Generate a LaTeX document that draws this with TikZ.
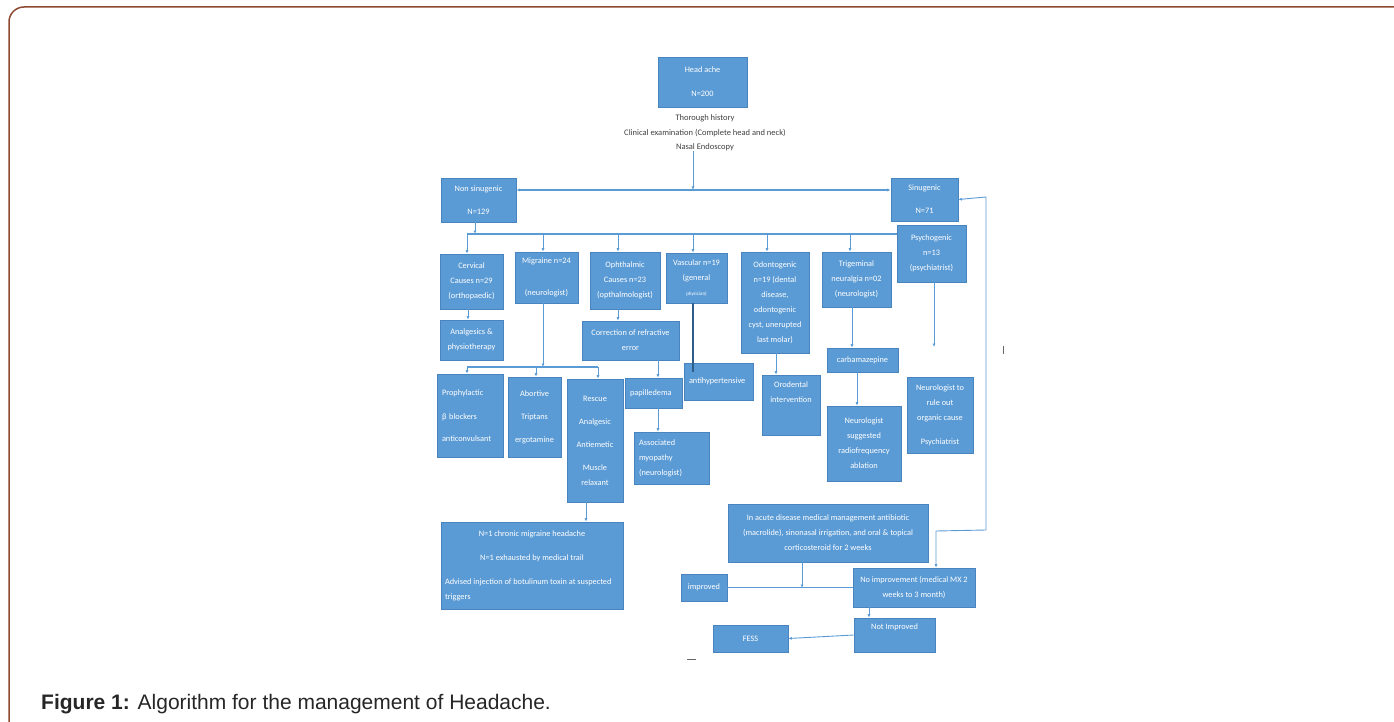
\documentclass[tikz,border=0pt]{standalone}
\usepackage{fontspec}
\setmainfont{Liberation Sans}
\newfontfamily\boxfont{Carlito}
\usetikzlibrary{arrows.meta}
\definecolor{boxblue}{HTML}{5B9BD5}
\definecolor{boxedge}{HTML}{4A84BE}
\definecolor{linkblue}{HTML}{5B9BD5}
\definecolor{darkline}{HTML}{2F5D8C}
\definecolor{framebrown}{HTML}{8E4A32}
\definecolor{notegray}{HTML}{404040}
\begin{document}
\begin{tikzpicture}[x=1pt,y=-1pt,
  box/.style={draw=boxedge, line width=0.6pt, fill=boxblue, text=white,
    font=\boxfont\fontsize{8.3}{15}\selectfont, inner sep=0pt, align=center},
  lbox/.style={box, align=left, inner xsep=5pt},
  link/.style={draw=linkblue, line width=0.9pt},
  arr/.style={link, -{Latex[length=3.5pt,width=3pt]}},
  biarr/.style={link, {Latex[length=3.5pt,width=3pt]}-{Latex[length=3.5pt,width=3pt]}},
  tick/.style={draw=black!60, line width=1pt}]
\useasboundingbox (0,0) rectangle (1394,722);
\clip (0,0) rectangle (1394,722);
% frame
\draw[framebrown, line width=1.5pt, rounded corners=15pt] (9,760) -- (9,7) -- (1420,7);

% top
\node[box, minimum width=89pt, minimum height=50pt] (head) at (702.5,82) {Head ache\\[9pt]N=200};
\node[align=center, text=notegray, inner sep=0pt, font=\boxfont\fontsize{8.5}{14.5}\selectfont] (exam) at (705,133)
  {Thorough history\\Clinical examination (Complete head and neck)\\Nasal Endoscopy};
\node[box, minimum width=75pt, minimum height=44pt] (nonsin) at (478.5,200) {Non sinugenic\\[8pt]N=129};
\node[box, minimum width=67pt, minimum height=43pt] (sin) at (924.5,199.5) {Sinugenic\\[8pt]N=71};

% level 1
\node[box, minimum width=63pt, minimum height=55pt] (cerv) at (471.5,281.5) {Cervical\\Causes n=29\\(orthopaedic)};
\node[box, minimum width=63pt, minimum height=51pt] (migr) at (546.5,277.5) {Migraine n=24\\[17pt](neurologist)};
\node[box, minimum width=70pt, minimum height=57pt] (ophth) at (625,280.5) {Ophthalmic\\Causes n=23\\(opthalmologist)};
\node[box, minimum width=61pt, minimum height=50pt] (vasc) at (696.5,278) {Vascular n=19\\(general\\{\fontsize{5}{6}\selectfont physician)}};
\node[box, minimum width=68pt, minimum height=101pt] (odont) at (775,302.5) {Odontogenic\\n=19 (dental\\disease,\\odontogenic\\cyst, unerupted\\last molar)};
\node[box, minimum width=69pt, minimum height=55pt] (trig) at (856.5,279.5) {Trigeminal\\neuralgia n=02\\(neurologist)};
\node[box, minimum width=69pt, minimum height=57pt] (psych) at (931.5,253.5) {Psychogenic\\n=13\\(psychiatrist)};

% level 2
\node[box, minimum width=63pt, minimum height=40pt] (analg) at (471.5,340) {Analgesics \&\\physiotherapy};
\node[box, minimum width=97pt, minimum height=39pt] (corr) at (630.5,340.5) {Correction of refractive\\error};
\node[lbox, text width=56pt, minimum height=83pt] (proph) at (470,415.5) {Prophylactic\\[9pt]β blockers\\[7pt]anticonvulsant};
\node[box, minimum width=53pt, minimum height=80pt] (abort) at (534.5,417) {Abortive\\[8pt]Triptans\\[8pt]ergotamine};
\node[box, minimum width=56pt, minimum height=123pt] (rescue) at (595,440.5) {Rescue\\[8pt]Analgesic\\[8pt]Antiemetic\\[8pt]Muscle\\relaxant};
\node[lbox, text width=47pt, minimum height=30pt] (papil) at (653.5,393) {papilledema};
\node[lbox, text width=65pt, minimum height=52pt] (assoc) at (671.5,458) {Associated\\myopathy\\(neurologist)};
\node[lbox, text width=59pt, minimum height=37pt] (antihyp) at (718.5,381.5) {antihypertensive\\[3pt]};
\node[box, minimum width=58pt, minimum height=60pt] (orod) at (791,405) {Orodental\\intervention\\[10pt]};
\node[box, minimum width=71pt, minimum height=24pt] (carb) at (862.5,360) {carbamazepine};
\node[box, minimum width=74pt, minimum height=75pt] (radio) at (864,443.5) {Neurologist\\suggested\\radiofrequency\\ablation};
\node[box, minimum width=66pt, minimum height=76pt] (neuro) at (940,415) {Neurologist to\\rule out\\organic cause\\[9pt]Psychiatrist};
\node[box, minimum width=182pt, minimum height=87pt] (botu) at (532,565.5)
  {N=1 chronic migraine headache\\[9pt]N=1 exhausted by medical trail\\[9pt]\parbox[t]{174pt}{\raggedright Advised injection of botulinum toxin at suspected\\triggers}};

% sinugenic branch
\node[box, minimum width=200pt, minimum height=58pt] (acute) at (828,533)
  {In acute disease medical management antibiotic\\(macrolide), sinonasal irrigation, and oral \& topical\\corticosteroid for 2 weeks};
\node[box, minimum width=46pt, minimum height=27pt] (impr) at (704,587.5) {improved};
\node[box, minimum width=122pt, minimum height=39pt] (noimp) at (914,587.5) {No improvement (medical MX 2\\weeks to 3 month)};
\node[box, minimum width=81pt, minimum height=34pt] (notimp) at (894.5,635) {Not Improved\\[2pt]};
\node[box, minimum width=75pt, minimum height=27pt] (fess) at (750.5,638.5) {FESS};

% connectors: top
\coordinate (split) at (693,190);
\draw[arr] (exam.south -| split) -- (split);
\draw[biarr, line width=1.3pt] (nonsin.east |- split) -- (sin.west |- split);

% non sinugenic bus
\coordinate (nsdrop) at (475,234);
\coordinate (busL) at (467,234);
\draw[arr] (nonsin.south -| nsdrop) -- (nsdrop);
\draw[link, line width=1.2pt] (busL) -- (psych.west |- busL);
\coordinate (j1) at (468,234);
\coordinate (j2) at (543,234);
\coordinate (j3) at (618,234);
\coordinate (j4) at (693,234);
\coordinate (j5) at (767,234);
\coordinate (j6) at (850,234);
\draw[arr] (busL) -- (busL |- cerv.north);
\draw[arr] (j2) -- (j2 |- migr.north);
\draw[arr] (j3) -- (j3 |- ophth.north);
\draw[arr] (j4) -- (j4 |- vasc.north);
\draw[arr] (j5) -- (j5 |- odont.north);
\draw[arr] (j6) -- (j6 |- trig.north);

% level 1 -> level 2
\draw[arr] (cerv.south -| j1) -- (analg.north -| j1);
\draw[arr] (ophth.south -| j3) -- (corr.north -| j3);
\coordinate (mj) at (543,367);
\coordinate (mL) at (467,367);
\coordinate (mA) at (536,367);
\coordinate (mR) at (598,367);
\draw[arr] (migr.south -| mj) -- (mj);
\draw[link, line width=1.2pt] (mL) -- (mR);
\draw[arr] (mL) -- (mL |- proph.north);
\draw[arr] (mA) -- (mA |- abort.north);
\draw[arr] (mR) -- (mR |- rescue.north);
\coordinate (xr) at (586,510);
\draw[arr] (rescue.south -| xr) -- (botu.north -| xr);
\coordinate (xp) at (658,400);
\draw[arr] (corr.south -| xp) -- (papil.north -| xp);
\draw[arr] (papil.south -| xp) -- (assoc.north -| xp);
\coordinate (vend) at (693,372);
\draw[darkline, line width=2.2pt] (vasc.south -| vend) -- (vend);
\coordinate (xo) at (776,360);
\draw[arr] (odont.south -| xo) -- (orod.north -| xo);
\coordinate (xt) at (852,320);
\draw[arr] (trig.south -| xt) -- (carb.north -| xt);
\coordinate (xc) at (857,390);
\draw[arr] (carb.south -| xc) -- (radio.north -| xc);
\coordinate (pend) at (934,347);
\draw[arr] (psych.south -| pend) -- (pend);

% sinugenic branch connectors
\coordinate (fb1) at (986,197);
\coordinate (fb2) at (986,530);
\coordinate (fb3) at (936,531);
\draw[biarr] (noimp.north -| fb3) -- (fb3) -- (fb2) -- (fb1) -- (sin.east);
\coordinate (ai) at (802,588);
\draw[arr] (acute.south -| ai) -- (ai);
\draw[link] (noimp.west) -- (impr.east);
\coordinate (xn) at (869,612);
\draw[arr] (noimp.south -| xn) -- (notimp.north -| xn);
\draw[arr] (notimp.west) -- (fess.east);

% stray marks
\draw[tick] (1003,346) -- (1003,354);
\draw[tick] (687,659) -- (696,659);

% caption
\node[anchor=base west, inner sep=0pt, text=black!85, font=\fontsize{21}{24}\selectfont] (cap) at (41,709)
  {\textbf{Figure 1:} Algorithm for the management of Headache.};
\end{tikzpicture}
\end{document}
